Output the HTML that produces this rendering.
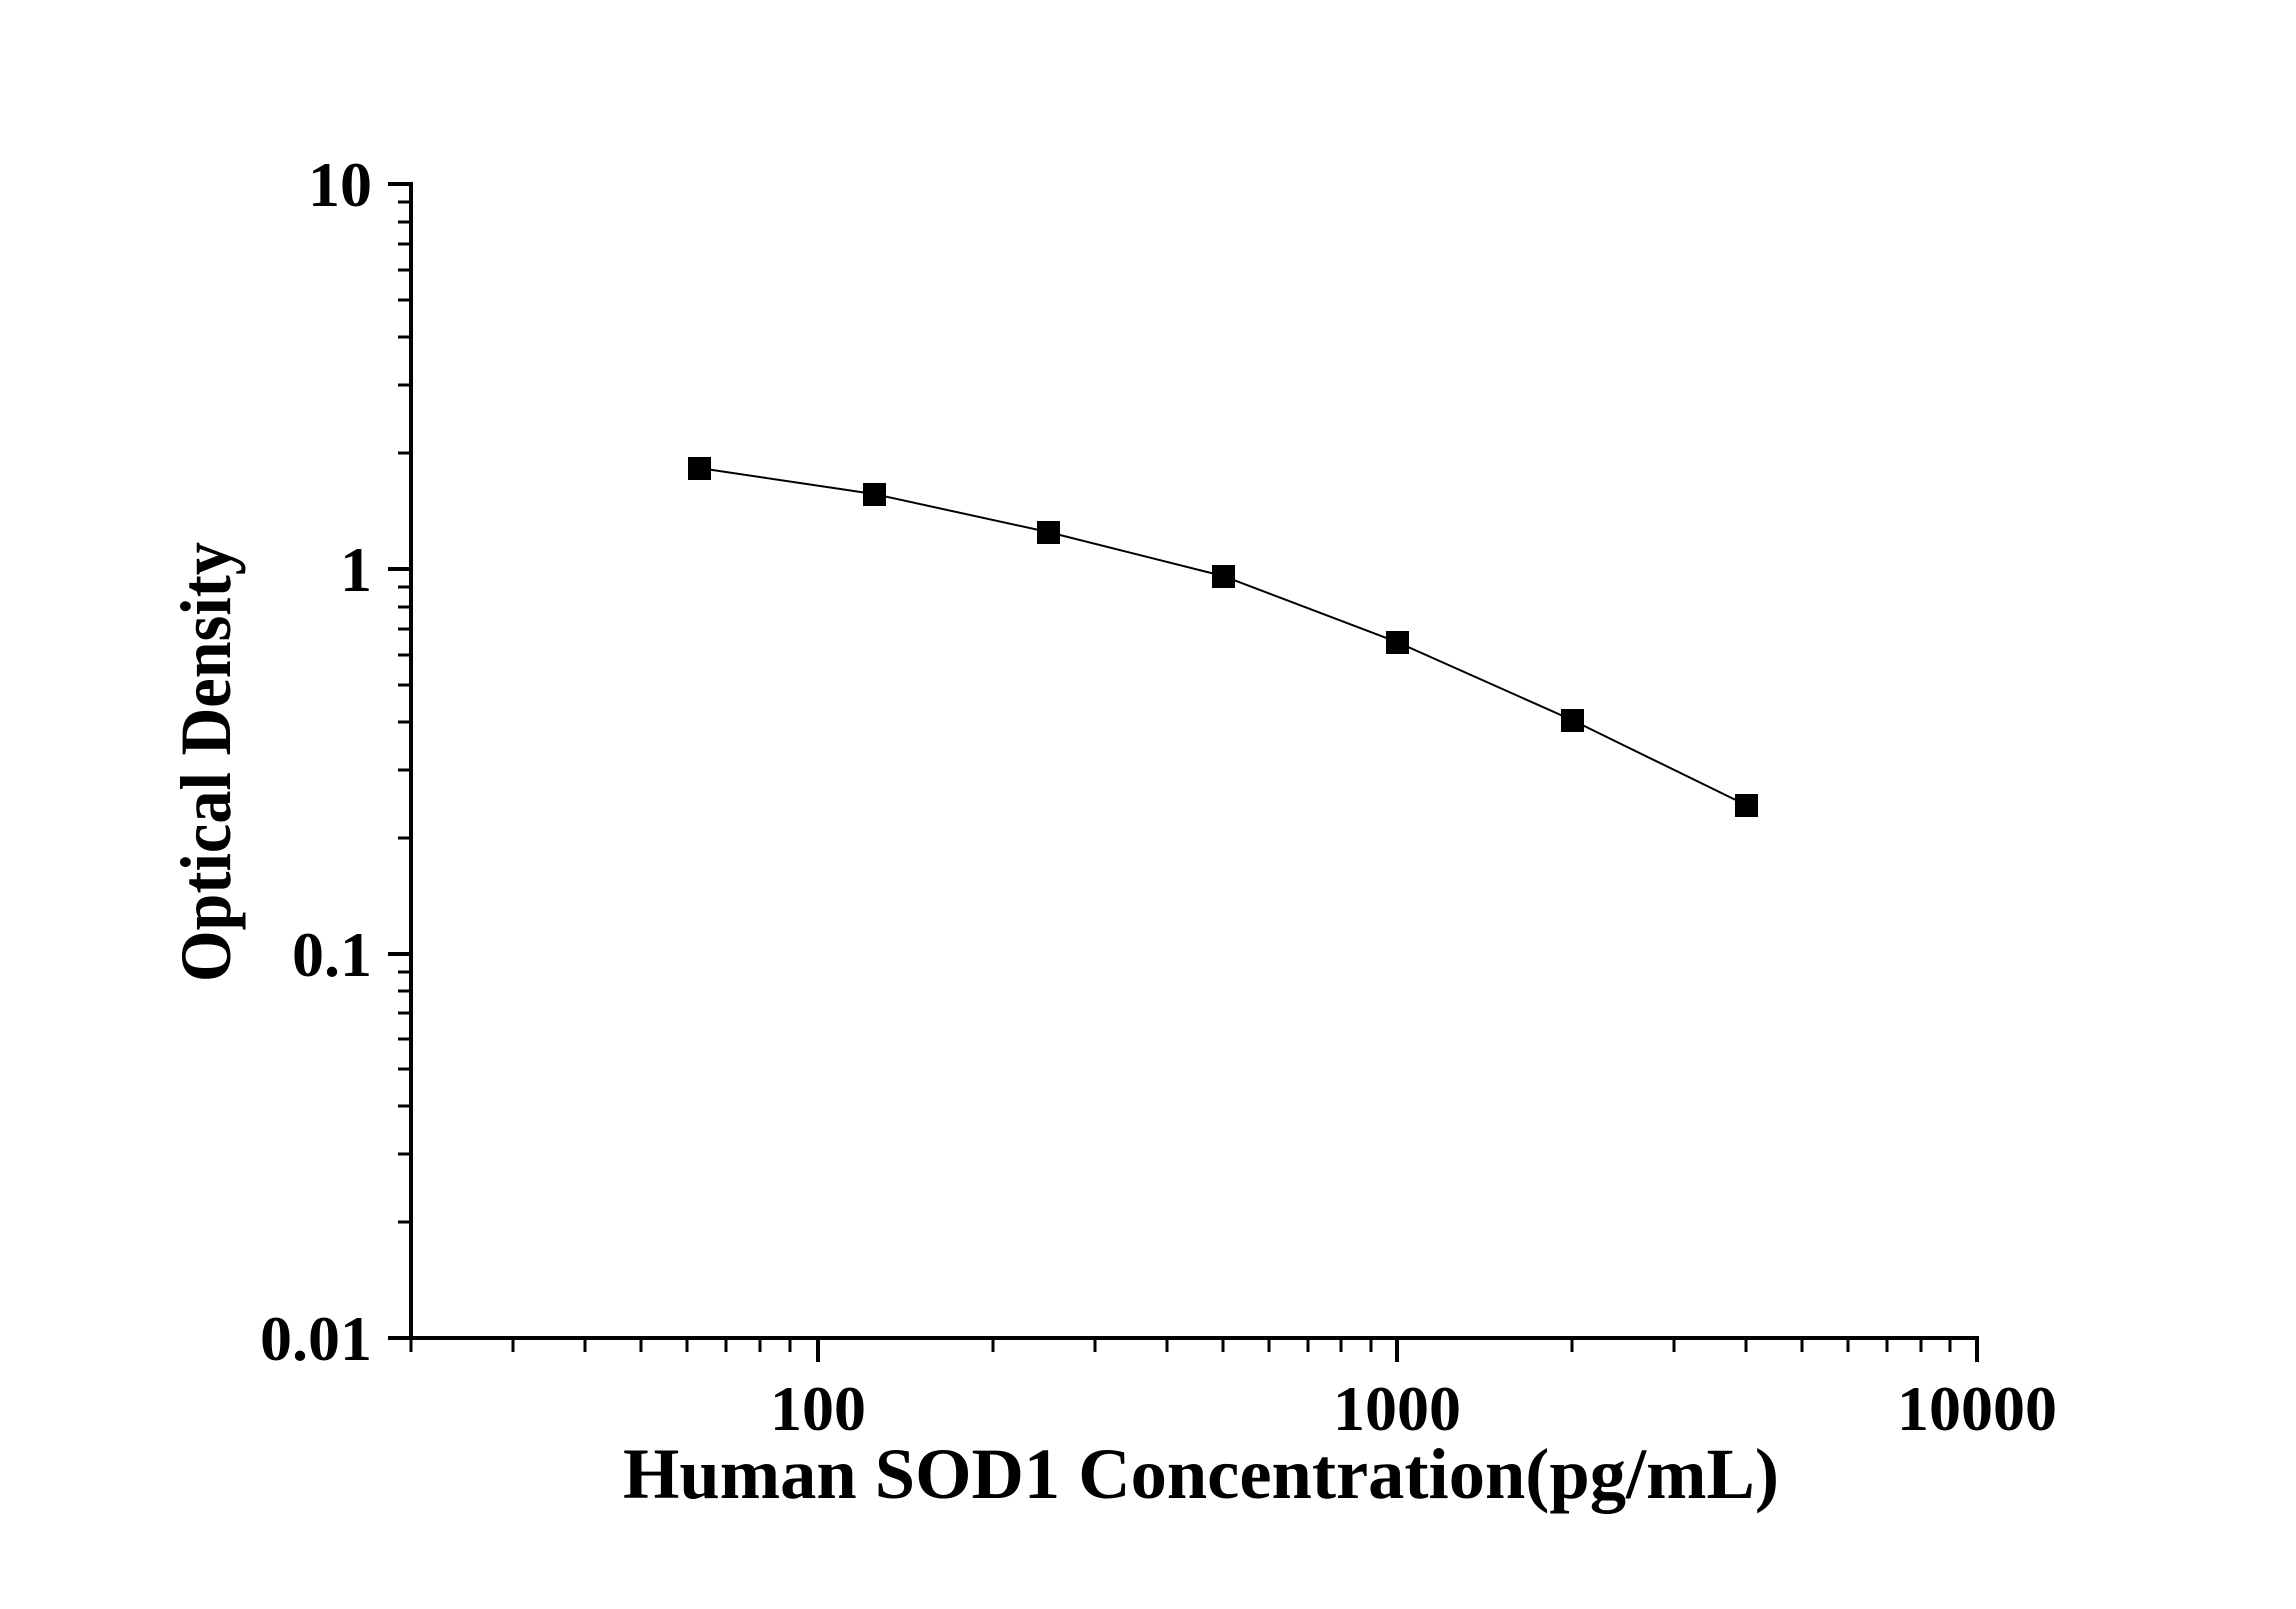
<!DOCTYPE html>
<html><head><style>html,body{margin:0;padding:0;background:#fff}</style></head><body>
<svg width="2296" height="1604" xmlns="http://www.w3.org/2000/svg" font-family="'Liberation Serif', serif" font-weight="bold">
<rect width="2296" height="1604" fill="#fff"/>
<g stroke="#000" stroke-width="4" fill="none">
<line x1="411" y1="182" x2="411" y2="1340"/>
<line x1="409" y1="1338" x2="1979" y2="1338"/>
<line x1="388" y1="184" x2="411" y2="184"/>
<line x1="388" y1="569" x2="411" y2="569"/>
<line x1="388" y1="954" x2="411" y2="954"/>
<line x1="388" y1="1338" x2="411" y2="1338"/>
<line x1="818" y1="1338" x2="818" y2="1362"/>
<line x1="1397" y1="1338" x2="1397" y2="1362"/>
<line x1="1977" y1="1338" x2="1977" y2="1362"/>
</g>
<g stroke="#000" stroke-width="3">
<line x1="411" y1="1338" x2="411" y2="1352"/>
<line x1="513" y1="1338" x2="513" y2="1352"/>
<line x1="585" y1="1338" x2="585" y2="1352"/>
<line x1="641" y1="1338" x2="641" y2="1352"/>
<line x1="687" y1="1338" x2="687" y2="1352"/>
<line x1="726" y1="1338" x2="726" y2="1352"/>
<line x1="760" y1="1338" x2="760" y2="1352"/>
<line x1="790" y1="1338" x2="790" y2="1352"/>
<line x1="993" y1="1338" x2="993" y2="1352"/>
<line x1="1095" y1="1338" x2="1095" y2="1352"/>
<line x1="1167" y1="1338" x2="1167" y2="1352"/>
<line x1="1223" y1="1338" x2="1223" y2="1352"/>
<line x1="1269" y1="1338" x2="1269" y2="1352"/>
<line x1="1308" y1="1338" x2="1308" y2="1352"/>
<line x1="1341" y1="1338" x2="1341" y2="1352"/>
<line x1="1371" y1="1338" x2="1371" y2="1352"/>
<line x1="1572" y1="1338" x2="1572" y2="1352"/>
<line x1="1674" y1="1338" x2="1674" y2="1352"/>
<line x1="1746" y1="1338" x2="1746" y2="1352"/>
<line x1="1802" y1="1338" x2="1802" y2="1352"/>
<line x1="1848" y1="1338" x2="1848" y2="1352"/>
<line x1="1887" y1="1338" x2="1887" y2="1352"/>
<line x1="1921" y1="1338" x2="1921" y2="1352"/>
<line x1="1950" y1="1338" x2="1950" y2="1352"/>
<line x1="398" y1="453" x2="411" y2="453"/>
<line x1="398" y1="385" x2="411" y2="385"/>
<line x1="398" y1="337" x2="411" y2="337"/>
<line x1="398" y1="300" x2="411" y2="300"/>
<line x1="398" y1="270" x2="411" y2="270"/>
<line x1="398" y1="244" x2="411" y2="244"/>
<line x1="398" y1="222" x2="411" y2="222"/>
<line x1="398" y1="202" x2="411" y2="202"/>
<line x1="398" y1="838" x2="411" y2="838"/>
<line x1="398" y1="770" x2="411" y2="770"/>
<line x1="398" y1="722" x2="411" y2="722"/>
<line x1="398" y1="685" x2="411" y2="685"/>
<line x1="398" y1="655" x2="411" y2="655"/>
<line x1="398" y1="629" x2="411" y2="629"/>
<line x1="398" y1="607" x2="411" y2="607"/>
<line x1="398" y1="587" x2="411" y2="587"/>
<line x1="398" y1="1222" x2="411" y2="1222"/>
<line x1="398" y1="1154" x2="411" y2="1154"/>
<line x1="398" y1="1106" x2="411" y2="1106"/>
<line x1="398" y1="1069" x2="411" y2="1069"/>
<line x1="398" y1="1039" x2="411" y2="1039"/>
<line x1="398" y1="1013" x2="411" y2="1013"/>
<line x1="398" y1="991" x2="411" y2="991"/>
<line x1="398" y1="972" x2="411" y2="972"/>
</g>
<polyline fill="none" stroke="#000" stroke-width="2" points="699,468 874,494 1048,532 1223,576 1397,642 1572,720 1746,805"/>
<g fill="#000">
<rect x="688" y="457" width="23" height="23"/>
<rect x="863" y="483" width="23" height="23"/>
<rect x="1037" y="521" width="23" height="23"/>
<rect x="1212" y="565" width="23" height="23"/>
<rect x="1386" y="631" width="23" height="23"/>
<rect x="1561" y="709" width="23" height="23"/>
<rect x="1735" y="794" width="23" height="23"/>
</g>
<g font-size="64" text-anchor="end">
<text x="372" y="206">10</text>
<text x="372" y="591">1</text>
<text x="372" y="976">0.1</text>
<text x="372" y="1360">0.01</text>
</g>
<g font-size="64" text-anchor="middle">
<text x="818" y="1430">100</text>
<text x="1397" y="1430">1000</text>
<text x="1977" y="1430">10000</text>
</g>
<text x="1201" y="1498" font-size="72" text-anchor="middle" textLength="1156" lengthAdjust="spacingAndGlyphs">Human SOD1 Concentration(pg/mL)</text>
<text transform="translate(230,762) rotate(-90)" font-size="72" text-anchor="middle" textLength="440" lengthAdjust="spacingAndGlyphs">Optical Density</text>
</svg>
</body></html>
